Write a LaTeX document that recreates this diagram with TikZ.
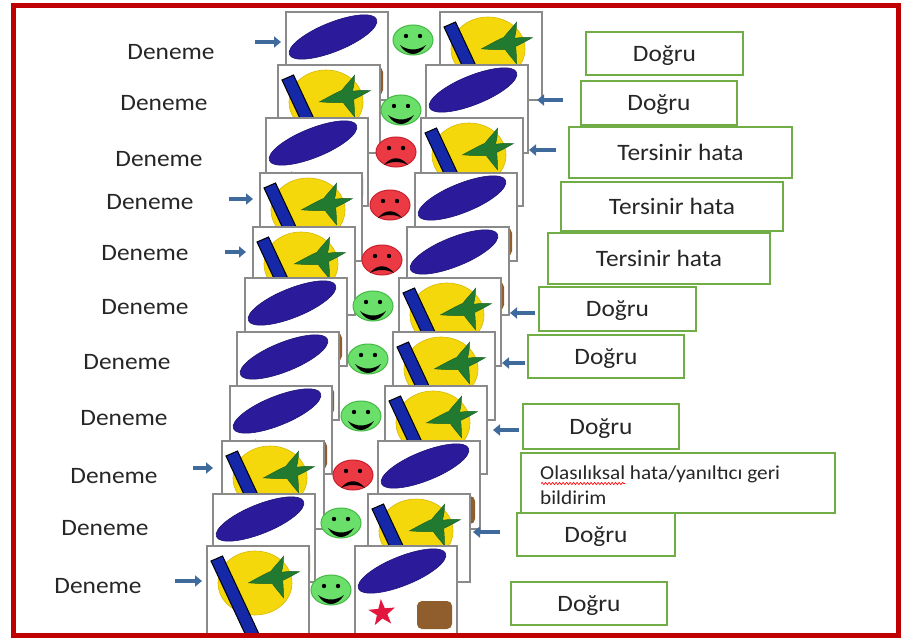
\documentclass[tikz,border=0pt]{standalone}
\usepackage{fontspec}
\setmainfont{Carlito}[FakeStretch=1.08]
\usetikzlibrary{shapes.geometric,arrows.meta,decorations.pathmorphing}

\definecolor{framered}{HTML}{C00000}
\definecolor{cardgray}{HTML}{8A8A8A}
\definecolor{ovalblue}{HTML}{2B1B9B}
\definecolor{ovalline}{HTML}{1C1275}
\definecolor{sunyellow}{HTML}{F4D80C}
\definecolor{sunline}{HTML}{D9B800}
\definecolor{barblue}{HTML}{1428A8}
\definecolor{leaf}{HTML}{227A30}
\definecolor{leafline}{HTML}{1A6426}
\definecolor{starred}{HTML}{E3163E}
\definecolor{clay}{HTML}{8F5E2C}
\definecolor{happyfill}{HTML}{6AE06A}
\definecolor{happyline}{HTML}{45B845}
\definecolor{sadfill}{HTML}{EC3A44}
\definecolor{sadline}{HTML}{C8202C}
\definecolor{cueblue}{HTML}{3E6A9C}
\definecolor{boxgreen}{HTML}{70AD47}
\definecolor{ink}{HTML}{262626}

\tikzset{
  card/.style={draw=cardgray, line width=1.2pt, fill=white, minimum width=102pt,
    minimum height=88pt, inner sep=0pt, outer sep=0pt},
  answer/.style={draw=boxgreen, line width=2.5pt, fill=white, inner sep=0pt,
    text depth=0pt, font=\fontsize{23.5}{28}\selectfont, text=ink},
  trial/.style={font=\fontsize{23.5}{28}\selectfont, text=ink, inner sep=0pt},
  face/.style={ellipse, minimum width=40pt, minimum height=30pt, inner sep=0pt, line width=1pt},
  happy/.style={face, fill=happyfill, draw=happyline},
  sad/.style={face, fill=sadfill, draw=sadline},
  cue/.style={draw=cueblue, line width=4pt, -{Triangle[length=7pt,width=11pt]}},
  squiggle/.style={red, line width=0.7pt, decorate,
    decoration={snake, amplitude=1.1pt, segment length=3.5pt}},
}

% card with the blue oval, red star and brown tile; #1 name, #2/#3 top-left corner
\newcommand{\ovalcard}[3]{%
  \node[card] (#1) at (#2+51,#3+44) {};
  \begin{scope}[shift={(#2,#3)}]
    \clip (0,0) rectangle (102,88);
    \filldraw[fill=ovalblue, draw=ovalline, line width=0.6pt, rotate around={22:(47,25)}]
      (47,25) ellipse [x radius=47pt, y radius=14.5pt];
    \begin{scope}[shift={(27,67)}]
      \fill[starred] (-95:14) -- (-59:5.5) -- (-23:14) -- (13:5.5) -- (49:14) -- (85:5.5)
        -- (121:14) -- (157:5.5) -- (193:14) -- (229:5.5) -- cycle;
    \end{scope}
    \fill[clay, rounded corners=5pt] (62,55) rectangle (97,83);
  \end{scope}
  \draw[cardgray, line width=1.2pt] (#1.north west) rectangle (#1.south east);
}

% card with the yellow disc, blue bar and green four-point star
\newcommand{\suncard}[3]{%
  \node[card] (#1) at (#2+51,#3+44) {};
  \begin{scope}[shift={(#2,#3)}]
    \clip (0,0) rectangle (102,88);
    \filldraw[fill=sunyellow, draw=sunline, line width=0.6pt]
      (48,37) ellipse [x radius=37pt, y radius=32pt];
    \filldraw[fill=barblue, draw=black, line width=1pt]
      (4,15) -- (15.5,10) -- (52,88) -- (40.5,93) -- cycle;
    \begin{scope}[shift={(69,31)}]
      \filldraw[fill=leaf, draw=leafline, line width=0.5pt]
        (-70:22) .. controls (-52:12) and (-50:8.5) .. (-41:7.5)
        .. controls (-32:8.5) and (-31:12) .. (-13:24)
        .. controls (5:12) and (19:8.5) .. (28:7.5)
        .. controls (37:8.5) and (52:12) .. (70:22)
        .. controls (88:12) and (110:8.5) .. (119:7.5)
        .. controls (128:8.5) and (150:14) .. (168:28)
        .. controls (186:14) and (220:8.5) .. (229:7.5)
        .. controls (238:8.5) and (272:12) .. (-70:22) -- cycle;
    \end{scope}
  \end{scope}
  \draw[cardgray, line width=1.2pt] (#1.north west) rectangle (#1.south east);
}

\newcommand{\happyface}[3]{%
  \node[happy] (#1) at (#2,#3) {};
  \begin{scope}[shift={(#2,#3)}]
    \fill (-7,-4) circle[radius=2.2pt] (7,-4) circle[radius=2.2pt];
    \fill (-13,5) .. controls (-5,11) and (5,11) .. (13,5)
      .. controls (6,17) and (-6,17) .. (-13,5) -- cycle;
  \end{scope}}

\newcommand{\sadface}[3]{%
  \node[sad] (#1) at (#2,#3) {};
  \begin{scope}[shift={(#2,#3)}]
    \fill (-7,-4) circle[radius=2.2pt] (7,-4) circle[radius=2.2pt];
    \fill (-12,13) .. controls (-5,4) and (5,4) .. (12,13)
      .. controls (5,9) and (-5,9) .. (-12,13) -- cycle;
  \end{scope}}

\begin{document}
\begin{tikzpicture}[x=1pt,y=-1pt]
\useasboundingbox (0,0) rectangle (902,642);
\fill[white] (0,0) rectangle (902,642);

% row 1
\node[trial] (D1) at (171,52) {Deneme};
\ovalcard{L1}{286}{12}
\happyface{F1}{413}{40}
\suncard{R1}{440}{12}
\coordinate (a1) at (255,42);
\draw[cue, shorten >=5pt] (a1) -- (a1 -| L1.west);
\node[answer, minimum width=157pt, minimum height=43pt] (B1) at (664.5,53.5) {Doğru};

% row 2
\node[trial] (D2) at (164,103) {Deneme};
\suncard{L2}{278}{65}
\happyface{F2}{401}{110}
\ovalcard{R2}{426}{65}
\coordinate (a2) at (563,100);
\draw[cue, shorten >=9pt] (a2) -- (a2 -| R2.east);
\node[answer, minimum width=156pt, minimum height=44pt] (B2) at (659,103) {Doğru};

% row 3
\node[trial] (D3) at (159,159) {Deneme};
\ovalcard{L3}{266}{118}
\sadface{F3}{396}{152}
\suncard{R3}{421}{118}
\coordinate (a3) at (556,150);
\draw[cue, shorten >=6pt] (a3) -- (a3 -| R3.east);
\node[answer, minimum width=223pt, minimum height=51pt] (B3) at (680.5,152.5) {Tersinir hata};

% row 4
\node[trial] (D4) at (150,202) {Deneme};
\suncard{L4}{260}{173}
\sadface{F4}{390}{205}
\ovalcard{R4}{415}{173}
\coordinate (a4) at (229,199);
\draw[cue, shorten >=7pt] (a4) -- (a4 -| L4.west);
\node[answer, minimum width=222pt, minimum height=49pt] (B4) at (672,206.5) {Tersinir hata};

% row 5
\node[trial] (D5) at (145,253) {Deneme};
\suncard{L5}{253}{227}
\sadface{F5}{382}{260}
\ovalcard{R5}{407}{227}
\coordinate (a5) at (225,252);
\draw[cue, shorten >=7pt] (a5) -- (a5 -| L5.west);
\node[answer, minimum width=222pt, minimum height=51pt] (B5) at (659,258.5) {Tersinir hata};

% row 6
\node[trial] (D6) at (145,307) {Deneme};
\ovalcard{L6}{245}{278}
\happyface{F6}{373}{306}
\suncard{R6}{399}{278}
\coordinate (a6) at (535,313);
\draw[cue, shorten >=9pt] (a6) -- (a6 -| R6.east);
\node[answer, minimum width=157pt, minimum height=44pt] (B6) at (617.5,309) {Doğru};

% row 7
\node[trial] (D7) at (127,362) {Deneme};
\ovalcard{L7}{237}{332}
\happyface{F7}{368}{359}
\suncard{R7}{393}{332}
\coordinate (a7) at (525,363);
\draw[cue, shorten >=7pt] (a7) -- (a7 -| R7.east);
\node[answer, minimum width=156pt, minimum height=43pt] (B7) at (606,356.5) {Doğru};

% row 8
\node[trial] (D8) at (124,418) {Deneme};
\ovalcard{L8}{230}{386}
\happyface{F8}{361}{416}
\suncard{R8}{385}{386}
\coordinate (a8) at (519,430);
\draw[cue, shorten >=6pt] (a8) -- (a8 -| R8.east);
\node[answer, minimum width=156pt, minimum height=45pt] (B8) at (601,426.5) {Doğru};

% row 9
\node[trial] (D9) at (114,476) {Deneme};
\suncard{L9}{222}{441}
\sadface{F9}{353}{475}
\ovalcard{R9}{378}{441}
\coordinate (a9) at (193,468);
\draw[cue, shorten >=9pt] (a9) -- (a9 -| L9.west);
\node[answer, minimum width=314pt, minimum height=60pt] (B9) at (678,483) {};
\node[anchor=west, align=left, font=\fontsize{19.7}{25}\selectfont, text=ink, inner sep=0pt]
  (B9t) at (540,485.5) {Olasılıksal hata/yanıltıcı geri\\bildirim};
\coordinate (w1) at (541,483.5);
\coordinate (w2) at (625,483.5);
\draw[squiggle] (w1) -- (w2);

% row 10
\node[trial] (D10) at (105,528) {Deneme};
\ovalcard{L10}{213}{494}
\happyface{F10}{341}{523}
\suncard{R10}{368}{494}
\coordinate (a10) at (500,532);
\draw[cue, shorten >=3pt] (a10) -- (a10 -| R10.east);
\node[answer, minimum width=158pt, minimum height=43pt] (B10) at (596,534.5) {Doğru};

% row 11
\node[trial] (D11) at (98,586) {Deneme};
\suncard{L11}{207}{546}
\happyface{F11}{331}{590}
\ovalcard{R11}{355}{546}
\coordinate (a11) at (175,581);
\draw[cue, shorten >=5pt] (a11) -- (a11 -| L11.west);
\node[answer, minimum width=156pt, minimum height=43pt] (B11) at (589,603.5) {Doğru};

% outer frame
\draw[framered, line width=5pt] (13,5.5) rectangle (898,635.5);
\end{tikzpicture}
\end{document}
